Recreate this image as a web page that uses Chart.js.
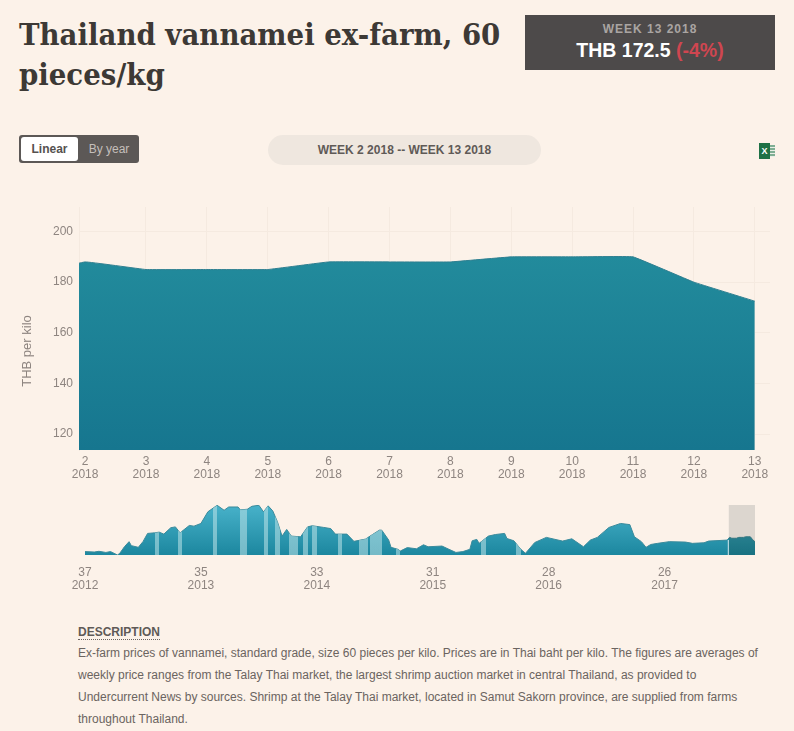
<!DOCTYPE html>
<html>
<head>
<meta charset="utf-8">
<script src="https://cdn.jsdelivr.net/npm/chart.js@4"></script>
<style>
  html, body { margin: 0; padding: 0; background: #fcf2e9; }
  body { position: relative; width: 794px; height: 731px; overflow: hidden; font-family: "Liberation Sans", Arial, sans-serif; }
  canvas { position: absolute; left: 0; }
  #title { position: absolute; left: 19px; top: 14px; width: 500px; margin: 0; font: bold 30.7px/40px "DejaVu Serif Condensed", "DejaVu Serif", serif; color: #3d3935; }
  #price { position: absolute; left: 525px; top: 15px; width: 250px; height: 55px; background: #4d4a4a; text-align: center; }
  #price .wk { margin-top: 7px; font-size: 12px; line-height: 14px; font-weight: bold; letter-spacing: 1px; color: #aaa5a2; }
  #price .val { margin-top: 2px; font-size: 19.5px; line-height: 24px; font-weight: bold; color: #fff; }
  #price .val span { color: #cf4650; }
  #toggle { position: absolute; left: 19px; top: 135px; width: 120px; height: 28px; background: #5c5856; border-radius: 3px; font-size: 12px; line-height: 28px; }
  #toggle .on { position: absolute; left: 2px; top: 2px; width: 57px; height: 24px; line-height: 24px; background: #fff; border-radius: 3px; text-align: center; font-weight: bold; color: #55514f; }
  #toggle .off { position: absolute; left: 60px; top: 0; width: 60px; text-align: center; color: #c4bfbb; }
  #range { position: absolute; left: 268px; top: 135px; width: 273px; height: 30px; line-height: 30px; background: #efe7df; border-radius: 15px; text-align: center; font-size: 12px; font-weight: bold; color: #5f5a57; }
  #xls { position: absolute; left: 759px; top: 143px; width: 16px; height: 16px; }
  #xls .a { position: absolute; left: 0; top: 0; width: 11px; height: 16px; background: #1e7145; color: #fff; font: bold 9px/16px "Liberation Sans", sans-serif; text-align: center; }
  #xls .b { position: absolute; left: 11px; top: 2px; width: 5px; height: 12px; background: repeating-linear-gradient(#7fae93 0 2px, #e8efe6 2px 3px); }
  #ytitle { position: absolute; left: 27px; top: 351px; width: 90px; height: 16px; margin: -8px 0 0 -45px; text-align: center; font-size: 13px; line-height: 16px; color: #8e8580; transform: rotate(-90deg); white-space: nowrap; }
  #desc { position: absolute; left: 78px; top: 620px; width: 700px; color: #6b6460; font-size: 12px; line-height: 22px; white-space: nowrap; }
  #desc .h { position: relative; top: 1px; display: inline-block; font-weight: bold; color: #5f5a57; line-height: 14px; border-bottom: 1px dotted #6b6460; }
</style>
</head>
<body>
<h1 id="title">Thailand vannamei ex-farm, 60 pieces/kg</h1>
<div id="price">
  <div class="wk">WEEK 13 2018</div>
  <div class="val">THB 172.5 <span>(-4%)</span></div>
</div>
<div id="toggle"><div class="on">Linear</div><div class="off">By year</div></div>
<div id="range">WEEK 2 2018 -- WEEK 13 2018</div>
<div id="xls"><div class="a">X</div><div class="b"></div></div>

<canvas id="main" width="794" height="300" style="top:190px"></canvas>
<canvas id="overview" width="794" height="100" style="top:495px"></canvas>
<div id="ytitle">THB per kilo</div>

<div id="desc">
  <span class="h">DESCRIPTION</span><br>
  Ex-farm prices of vannamei, standard grade, size 60 pieces per kilo. Prices are in Thai baht per kilo. The figures are averages of<br>
  weekly price ranges from the Talay Thai market, the largest shrimp auction market in central Thailand, as provided to<br>
  Undercurrent News by sources. Shrimp at the Talay Thai market, located in Samut Sakorn province, are supplied from farms<br>
  throughout Thailand.
</div>

<script>
// main chart, week 1 sits left of the axis and only gets clipped
const mainWeeks = [1, 2, 3, 4, 5, 6, 7, 8, 9, 10, 11, 12, 13];
const mainPrices = [182, 188, 185, 185, 185, 188, 188, 188, 190, 190, 190, 180, 172.5];
const mainTickWeeks = [2, 3, 4, 5, 6, 7, 8, 9, 10, 11, 12, 13];
const mainTickYear = '2018';
const priceTicks = [120, 140, 160, 180, 200];

// overview, x = weeks since week 37 2012
const overviewWeeks = [0, 4, 6, 9, 11, 14, 15, 17, 19, 20, 23, 25, 27, 30, 32, 34, 37, 39, 41, 45, 47, 50,
  53, 57, 60, 62, 66, 67, 70, 72, 75, 77, 79, 81, 83, 85, 87, 89, 93, 96, 98, 103, 106, 108, 113, 116, 121,
  124, 127, 128, 131, 132, 135, 136, 139, 143, 146, 148, 154, 157, 160, 163, 166, 167, 169, 170, 174, 177,
  181, 182, 185, 188, 190, 194, 199, 206, 210, 215, 218, 221, 226, 231, 235, 237, 240, 242, 244, 247, 252,
  259, 262, 267, 269, 277, 278, 279, 280, 281, 282, 283, 284, 285, 286, 287, 288, 289];
const overviewPrices = [138, 136.5, 139, 135, 138, 126, 132, 155, 173, 159, 153, 173, 202, 204, 206.5, 199.5, 222, 225, 204, 230, 227.5, 237,
  278, 301, 283.5, 295, 295, 285, 287, 297.5, 301, 278, 299, 281, 243, 192.5, 216, 192.5, 190, 225, 229, 223, 219, 199.5, 199.5, 174, 182,
  198, 213.5, 213.5, 178.5, 153, 146, 140, 152, 148, 162, 155, 157.5, 146, 135, 138, 146, 176, 181, 167, 192.5, 198,
  202, 184, 176, 146, 132, 170, 188, 175, 183, 155, 178.5, 188, 223, 237, 233, 190, 173, 153, 163, 167, 173,
  171.5, 167, 169, 175, 178.5, 188, 185, 185, 185, 188, 188, 188, 190, 190, 190, 180, 172.5];
const overviewTickWeeks = [0, 50, 100, 150, 200, 250];
const overviewTickLabels = [['37', '2012'], ['35', '2013'], ['33', '2014'], ['31', '2015'], ['28', '2016'], ['26', '2017']];
// lighter stretches in the overview and the selected window
const overviewBands = [[30, 32], [40, 42], [55, 57], [67, 70], [77, 79], [82, 84], [88, 92], [94, 96], [98, 100],
  [109, 111], [118, 122], [123, 128], [134, 136], [171, 173], [186, 188]];
const selectedWindow = [277.7, 289];

const tickColor = '#8e8580';
const gridColor = '#f5eae0';
const tickFont = { family: '"Liberation Sans", Arial, sans-serif', size: 12, lineHeight: 1.1 };

function toPoints(xs, ys) {
  return xs.map(function (x, i) { return { x: x, y: ys[i] }; });
}

function vertical(stops) {
  return function (context) {
    const area = context.chart.chartArea;
    if (!area) return stops[0];
    const g = context.chart.ctx.createLinearGradient(0, area.top, 0, area.bottom);
    g.addColorStop(0, stops[0]);
    g.addColorStop(1, stops[1]);
    return g;
  };
}

function bandFill(context) {
  const chart = context.chart;
  const area = chart.chartArea;
  if (!area) return 'rgba(0,0,0,0)';
  const width = area.right - area.left;
  const g = chart.ctx.createLinearGradient(area.left, 0, area.right, 0);
  const off = 'rgba(190,228,232,0)';
  const on = 'rgba(190,228,232,0.55)';
  overviewBands.forEach(function (band) {
    const a = (chart.scales.x.getPixelForValue(band[0]) - area.left) / width;
    const b = (chart.scales.x.getPixelForValue(band[1]) - area.left) / width;
    g.addColorStop(a, off);
    g.addColorStop(a, on);
    g.addColorStop(b, on);
    g.addColorStop(b, off);
  });
  return g;
}

new Chart(document.getElementById('main'), {
  type: 'line',
  data: {
    datasets: [{
      data: toPoints(mainWeeks, mainPrices),
      fill: 'start',
      backgroundColor: vertical(['#25909f', '#16768f']),
      borderColor: '#2f7f90',
      borderWidth: 1,
      pointRadius: 0,
      tension: 0.06,
    }]
  },
  options: {
    responsive: false,
    animation: false,
    layout: { padding: { top: 17, right: 24, bottom: 0, left: 0 } },
    plugins: { legend: { display: false }, tooltip: { enabled: false } },
    scales: {
      x: {
        type: 'linear',
        min: 1.9,
        max: 13.25,
        afterBuildTicks: function (axis) {
          axis.ticks = mainTickWeeks.map(function (w) { return { value: w }; });
        },
        afterFit: function (axis) { axis.height = 40; },
        border: { display: false },
        grid: {
          // week 2 has its line at the axis edge, not under its label
          color: function (context) {
            return context.tick && context.tick.value === 2 ? 'rgba(0,0,0,0)' : gridColor;
          },
          drawTicks: false,
        },
        ticks: {
          autoSkip: false,
          maxRotation: 0,
          padding: 5,
          color: tickColor,
          font: tickFont,
          callback: function (value) { return [String(value), mainTickYear]; },
        },
      },
      y: {
        min: 113.7,
        max: 209.7,
        afterBuildTicks: function (axis) {
          axis.ticks = priceTicks.map(function (v) { return { value: v }; });
        },
        afterFit: function (axis) { axis.width = 79; },
        border: { color: gridColor },
        grid: { color: gridColor, drawTicks: false },
        ticks: {
          padding: 6,
          color: tickColor,
          font: tickFont,
        },
      },
    },
  },
});

const selectionPlugin = {
  id: 'selection',
  afterDatasetsDraw: function (chart) {
    const ctx = chart.ctx;
    const area = chart.chartArea;
    const x0 = chart.scales.x.getPixelForValue(selectedWindow[0]);
    const x1 = chart.scales.x.getPixelForValue(selectedWindow[1]);
    ctx.save();
    ctx.globalCompositeOperation = 'multiply';
    ctx.fillStyle = '#dcd6cf';
    ctx.fillRect(x0, area.top, x1 - x0, area.bottom - area.top);
    ctx.restore();
    ctx.save();
    ctx.fillStyle = 'rgba(255,255,255,0.8)';
    ctx.fillRect(x0 - 1, area.bottom - 15, 1, 15);
    ctx.restore();
  },
};

new Chart(document.getElementById('overview'), {
  type: 'line',
  plugins: [selectionPlugin],
  data: {
    datasets: [{
      data: toPoints(overviewWeeks, overviewPrices),
      fill: 'start',
      backgroundColor: bandFill,
      borderWidth: 0,
      pointRadius: 0,
    }, {
      data: toPoints(overviewWeeks, overviewPrices),
      fill: 'start',
      backgroundColor: vertical(['#48b2ca', '#1c879f']),
      borderColor: '#3a8a9b',
      borderWidth: 1,
      pointRadius: 0,
    }]
  },
  options: {
    responsive: false,
    animation: false,
    layout: { padding: { top: 10, right: 39, bottom: 0, left: 85 } },
    plugins: { legend: { display: false }, tooltip: { enabled: false } },
    scales: {
      x: {
        type: 'linear',
        min: 0,
        max: 289,
        afterBuildTicks: function (axis) {
          axis.ticks = overviewTickWeeks.map(function (w) { return { value: w }; });
        },
        afterFit: function (axis) { axis.height = 40; },
        border: { display: false },
        grid: { display: false, drawTicks: false },
        ticks: {
          autoSkip: false,
          maxRotation: 0,
          padding: 11,
          color: tickColor,
          font: tickFont,
          callback: function (value) {
            return overviewTickLabels[overviewTickWeeks.indexOf(value)];
          },
        },
      },
      y: {
        display: false,
        min: 126,
        max: 302,
      },
    },
  },
});
</script>
</body>
</html>
